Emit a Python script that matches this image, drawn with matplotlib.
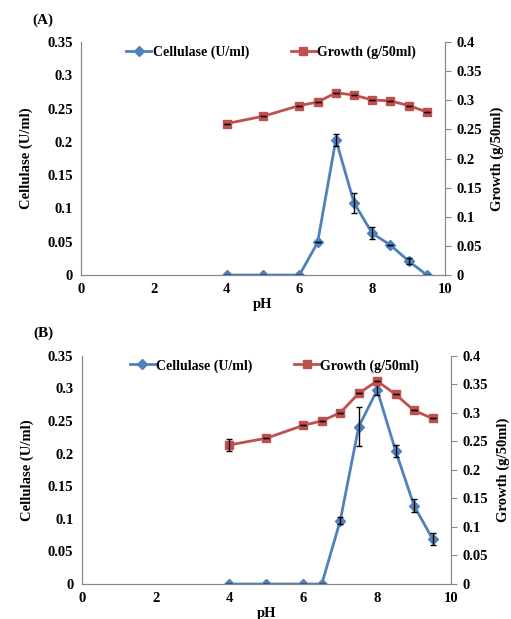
import matplotlib
matplotlib.use('Agg')
import matplotlib.pyplot as plt

plt.rcParams['font.family'] = 'Liberation Serif'
plt.rcParams['font.weight'] = 'bold'

ph = [4, 5, 6, 6.5, 7, 7.5, 8, 8.5, 9, 9.5]

# panel A
cell_a = [0, 0, 0, 0.049, 0.2035, 0.1085, 0.0625, 0.045, 0.021, 0]
cell_a_err = [0, 0, 0, 0, 0.009, 0.015, 0.009, 0, 0.005, 0]
growth_a = [0.26, 0.2726, 0.291, 0.297, 0.313, 0.309, 0.3006, 0.299, 0.291, 0.28]
growth_a_err = [0, 0, 0, 0, 0, 0, 0, 0, 0, 0]

# panel B
cell_b = [0, 0, 0, 0, 0.097, 0.241, 0.2974, 0.204, 0.12, 0.069]
cell_b_err = [0, 0, 0, 0, 0.005, 0.03, 0.007, 0.009, 0.01, 0.009]
growth_b = [0.2437, 0.2554, 0.278, 0.2857, 0.300, 0.334, 0.3557, 0.332, 0.304, 0.29]
growth_b_err = [0.01, 0, 0, 0, 0, 0, 0, 0, 0, 0]

blue = '#4F81BD'
red = '#C0504D'
grey = '#888888'

fig = plt.figure(figsize=(5.11, 6.19), dpi=100)


def panel(rect, label, cell, cell_err, growth, growth_err):
    ax = fig.add_axes(rect)
    ax2 = ax.twinx()
    l1, = ax.plot(ph, cell, color=blue, marker='D', markersize=5, lw=2,
                  label='Cellulase (U/ml)', zorder=3)
    ax.errorbar(ph, cell, yerr=cell_err, fmt='none', ecolor='black',
                elinewidth=1, capsize=2.5, zorder=4)
    l2, = ax2.plot(ph, growth, color=red, marker='s', markersize=6, lw=2,
                   label='Growth (g/50ml)', zorder=3)
    ax2.errorbar(ph, growth, yerr=growth_err, fmt='none', ecolor='black',
                 elinewidth=1, capsize=2.5, zorder=4)
    ax.set_xlim(0, 10)
    ax.set_ylim(0, 0.35)
    ax2.set_ylim(0, 0.4)
    ax.set_xticks([0, 2, 4, 6, 8, 10])
    ax.set_yticks([0, 0.05, 0.1, 0.15, 0.2, 0.25, 0.3, 0.35])
    ax.set_yticklabels(['0', '0.05', '0.1', '0.15', '0.2', '0.25', '0.3', '0.35'])
    ax2.set_yticks([0, 0.05, 0.1, 0.15, 0.2, 0.25, 0.3, 0.35, 0.4])
    ax2.set_yticklabels(['0', '0.05', '0.1', '0.15', '0.2', '0.25', '0.3', '0.35', '0.4'])
    for a in (ax, ax2):
        a.spines['top'].set_visible(False)
        for s in ('left', 'right', 'bottom'):
            a.spines[s].set_color(grey)
    ax.tick_params(axis='both', length=0, labelsize=10.5, pad=6)
    ax2.tick_params(axis='y', length=4, color=grey, labelsize=10.5, pad=4)
    ax.set_xlabel('pH', fontsize=10.5, fontweight='bold', labelpad=1)
    ax.set_ylabel('Cellulase (U/ml)', fontsize=10.5, fontweight='bold', labelpad=10)
    ax2.set_ylabel('Growth (g/50ml)', fontsize=10.5, fontweight='bold', labelpad=6)
    ax.legend([l1, l2], ['Cellulase (U/ml)', 'Growth (g/50ml)'], ncol=2,
              loc='upper center', bbox_to_anchor=(0.522, 1.04), frameon=False,
              fontsize=10, handlelength=1.8, handletextpad=0.1,
              columnspacing=3.0)
    fig.text(rect[0] - 0.095, rect[1] + rect[3] + 0.03, label,
             fontsize=11, fontweight='bold')


panel([0.1585, 0.5557, 0.7125, 0.3763], '(A)', cell_a, cell_a_err, growth_a, growth_a_err)
panel([0.160, 0.0565, 0.7226, 0.3689], '(B)', cell_b, cell_b_err, growth_b, growth_b_err)

fig.savefig('out.png', dpi=100)
